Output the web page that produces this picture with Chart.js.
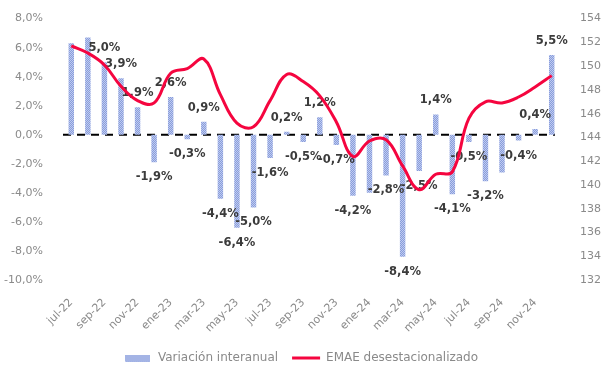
<!DOCTYPE html>
<html>
<head>
<meta charset="utf-8">
<script src="https://cdn.jsdelivr.net/npm/chart.js@4.4.0/dist/chart.umd.min.js"></script>
<style>
  html, body { margin: 0; padding: 0; background: #fff; }
  #wrap { width: 602px; height: 376px; }
</style>
</head>
<body>
<div id="wrap"><canvas id="myChart" width="602" height="376"></canvas></div>
<script>
const months = ['jul-22', 'ago-22', 'sep-22', 'oct-22', 'nov-22', 'dic-22',
    'ene-23', 'feb-23', 'mar-23', 'abr-23', 'may-23', 'jun-23',
    'jul-23', 'ago-23', 'sep-23', 'oct-23', 'nov-23', 'dic-23',
    'ene-24', 'feb-24', 'mar-24', 'abr-24', 'may-24', 'jun-24',
    'jul-24', 'ago-24', 'sep-24', 'oct-24', 'nov-24', 'dic-24'];

// variacion interanual (%)
const varInteranual = [6.3, 6.7, 5.0, 3.9, 1.9, -1.9, 2.6, -0.3, 0.9, -4.4, -6.4, -5.0,
    -1.6, 0.2, -0.5, 1.2, -0.7, -4.2, -4.0, -2.8, -8.4, -2.5, 1.4, -4.1,
    -0.5, -3.2, -2.6, -0.4, 0.4, 5.5];

// EMAE desestacionalizado (eje derecho)
const emaeDesest = [151.7, 151.1, 150.1, 148.3, 147.1, 146.9, 149.4, 149.8, 150.6, 147.6, 145.2, 144.9,
    147.1, 149.3, 148.7, 147.5, 145.3, 142.4, 143.7, 143.8, 141.6, 139.6, 140.9, 141.1,
    145.6, 147.0, 146.9, 147.4, 148.25, 149.2];

// meses sin etiqueta de dato en el original
const hiddenLabels = [0, 1, 18, 26];

function makePattern() {
    const c = document.createElement('canvas');
    c.width = 2;
    c.height = 2;
    const g = c.getContext('2d');
    g.fillStyle = '#889ddc';
    g.fillRect(0, 0, 2, 2);
    g.fillStyle = '#c0cbef';
    g.fillRect(0, 0, 1, 1);
    g.fillRect(1, 1, 1, 1);
    return g.createPattern(c, 'repeat');
}

const barPattern = makePattern();

// swatch de la leyenda para las barras
const barSwatch = document.createElement('canvas');
barSwatch.width = 25;
barSwatch.height = 7;
const sctx = barSwatch.getContext('2d');
sctx.fillStyle = barPattern;
sctx.fillRect(0, 0, 25, 7);

const fmt = v => v.toFixed(1).replace('.', ',') + '%';

const zeroLine = {
    id: 'zeroLine',
    beforeDatasetsDraw(chart) {
        const y = chart.scales.y.getPixelForValue(0);
        const area = chart.chartArea;
        const ctx = chart.ctx;
        ctx.save();
        ctx.strokeStyle = '#000';
        ctx.lineWidth = 2;
        ctx.setLineDash([8, 6]);
        ctx.beginPath();
        ctx.moveTo(area.left, y);
        ctx.lineTo(area.right - 5, y);
        ctx.stroke();
        ctx.restore();
    }
};

const barLabels = {
    id: 'barLabels',
    afterDatasetDraw(chart, args) {
        if (args.index !== 0) return;
        const ctx = chart.ctx;
        ctx.save();
        ctx.font = 'bold 11.5px "DejaVu Sans"';
        ctx.fillStyle = '#3b3b3b';
        ctx.textAlign = 'center';
        ctx.textBaseline = 'middle';
        args.meta.data.forEach((bar, i) => {
            if (hiddenLabels.includes(i)) return;
            const v = varInteranual[i];
            const y = v >= 0 ? bar.y - 14 : bar.y + 15;
            ctx.fillText(fmt(v), bar.x, y);
        });
        ctx.restore();
    }
};

const ctx = document.getElementById('myChart');

const config = {
    data: {
        labels: months,
        datasets: [{
            type: 'bar',
            label: 'Variación interanual',
            data: varInteranual,
            backgroundColor: barPattern,
            borderWidth: 0,
            barPercentage: 0.33,
            categoryPercentage: 1,
            yAxisID: 'y',
            order: 1,
            pointStyle: barSwatch
        }, {
            type: 'line',
            label: 'EMAE desestacionalizado',
            data: emaeDesest,
            borderColor: '#f5053f',
            backgroundColor: '#f5053f',
            borderWidth: 3,
            pointRadius: 0,
            tension: 0.4,
            yAxisID: 'y1',
            order: 0,
            pointStyle: 'line'
        }]
    },
    options: {
        responsive: false,
        animation: false,
        layout: { padding: { top: 15, left: 0, right: 0, bottom: 2 } },
        scales: {
            x: {
                grid: { display: false },
                border: { display: false },
                ticks: {
                    autoSkip: false,
                    minRotation: 45,
                    maxRotation: 45,
                    padding: 8,
                    color: '#8a8a8a',
                    font: { family: 'DejaVu Sans', size: 11 },
                    callback: (val, i) => (i % 2 === 0 ? months[i] : '')
                },
                afterFit: s => { s.height = 58; }
            },
            y: {
                position: 'left',
                min: -10,
                max: 8,
                grid: { display: false },
                border: { display: false },
                ticks: {
                    stepSize: 2,
                    padding: 12,
                    color: '#8a8a8a',
                    font: { family: 'DejaVu Sans', size: 11 },
                    callback: v => fmt(v)
                },
                afterFit: s => { s.width = 63; }
            },
            y1: {
                position: 'right',
                min: 132,
                max: 154,
                grid: { display: false },
                border: { display: false },
                ticks: {
                    stepSize: 2,
                    padding: 12,
                    color: '#8a8a8a',
                    font: { family: 'DejaVu Sans', size: 11 }
                },
                afterFit: s => { s.width = 42; }
            }
        },
        plugins: {
            legend: {
                position: 'bottom',
                labels: {
                    usePointStyle: true,
                    pointStyleWidth: 28,
                    padding: 14,
                    color: '#8a8a8a',
                    font: { family: 'DejaVu Sans', size: 12 },
                    sort: (a, b) => a.datasetIndex - b.datasetIndex
                }
            },
            tooltip: { enabled: false }
        }
    },
    plugins: [zeroLine, barLabels]
};

const chart = new Chart(ctx, config);
</script>
</body>
</html>
